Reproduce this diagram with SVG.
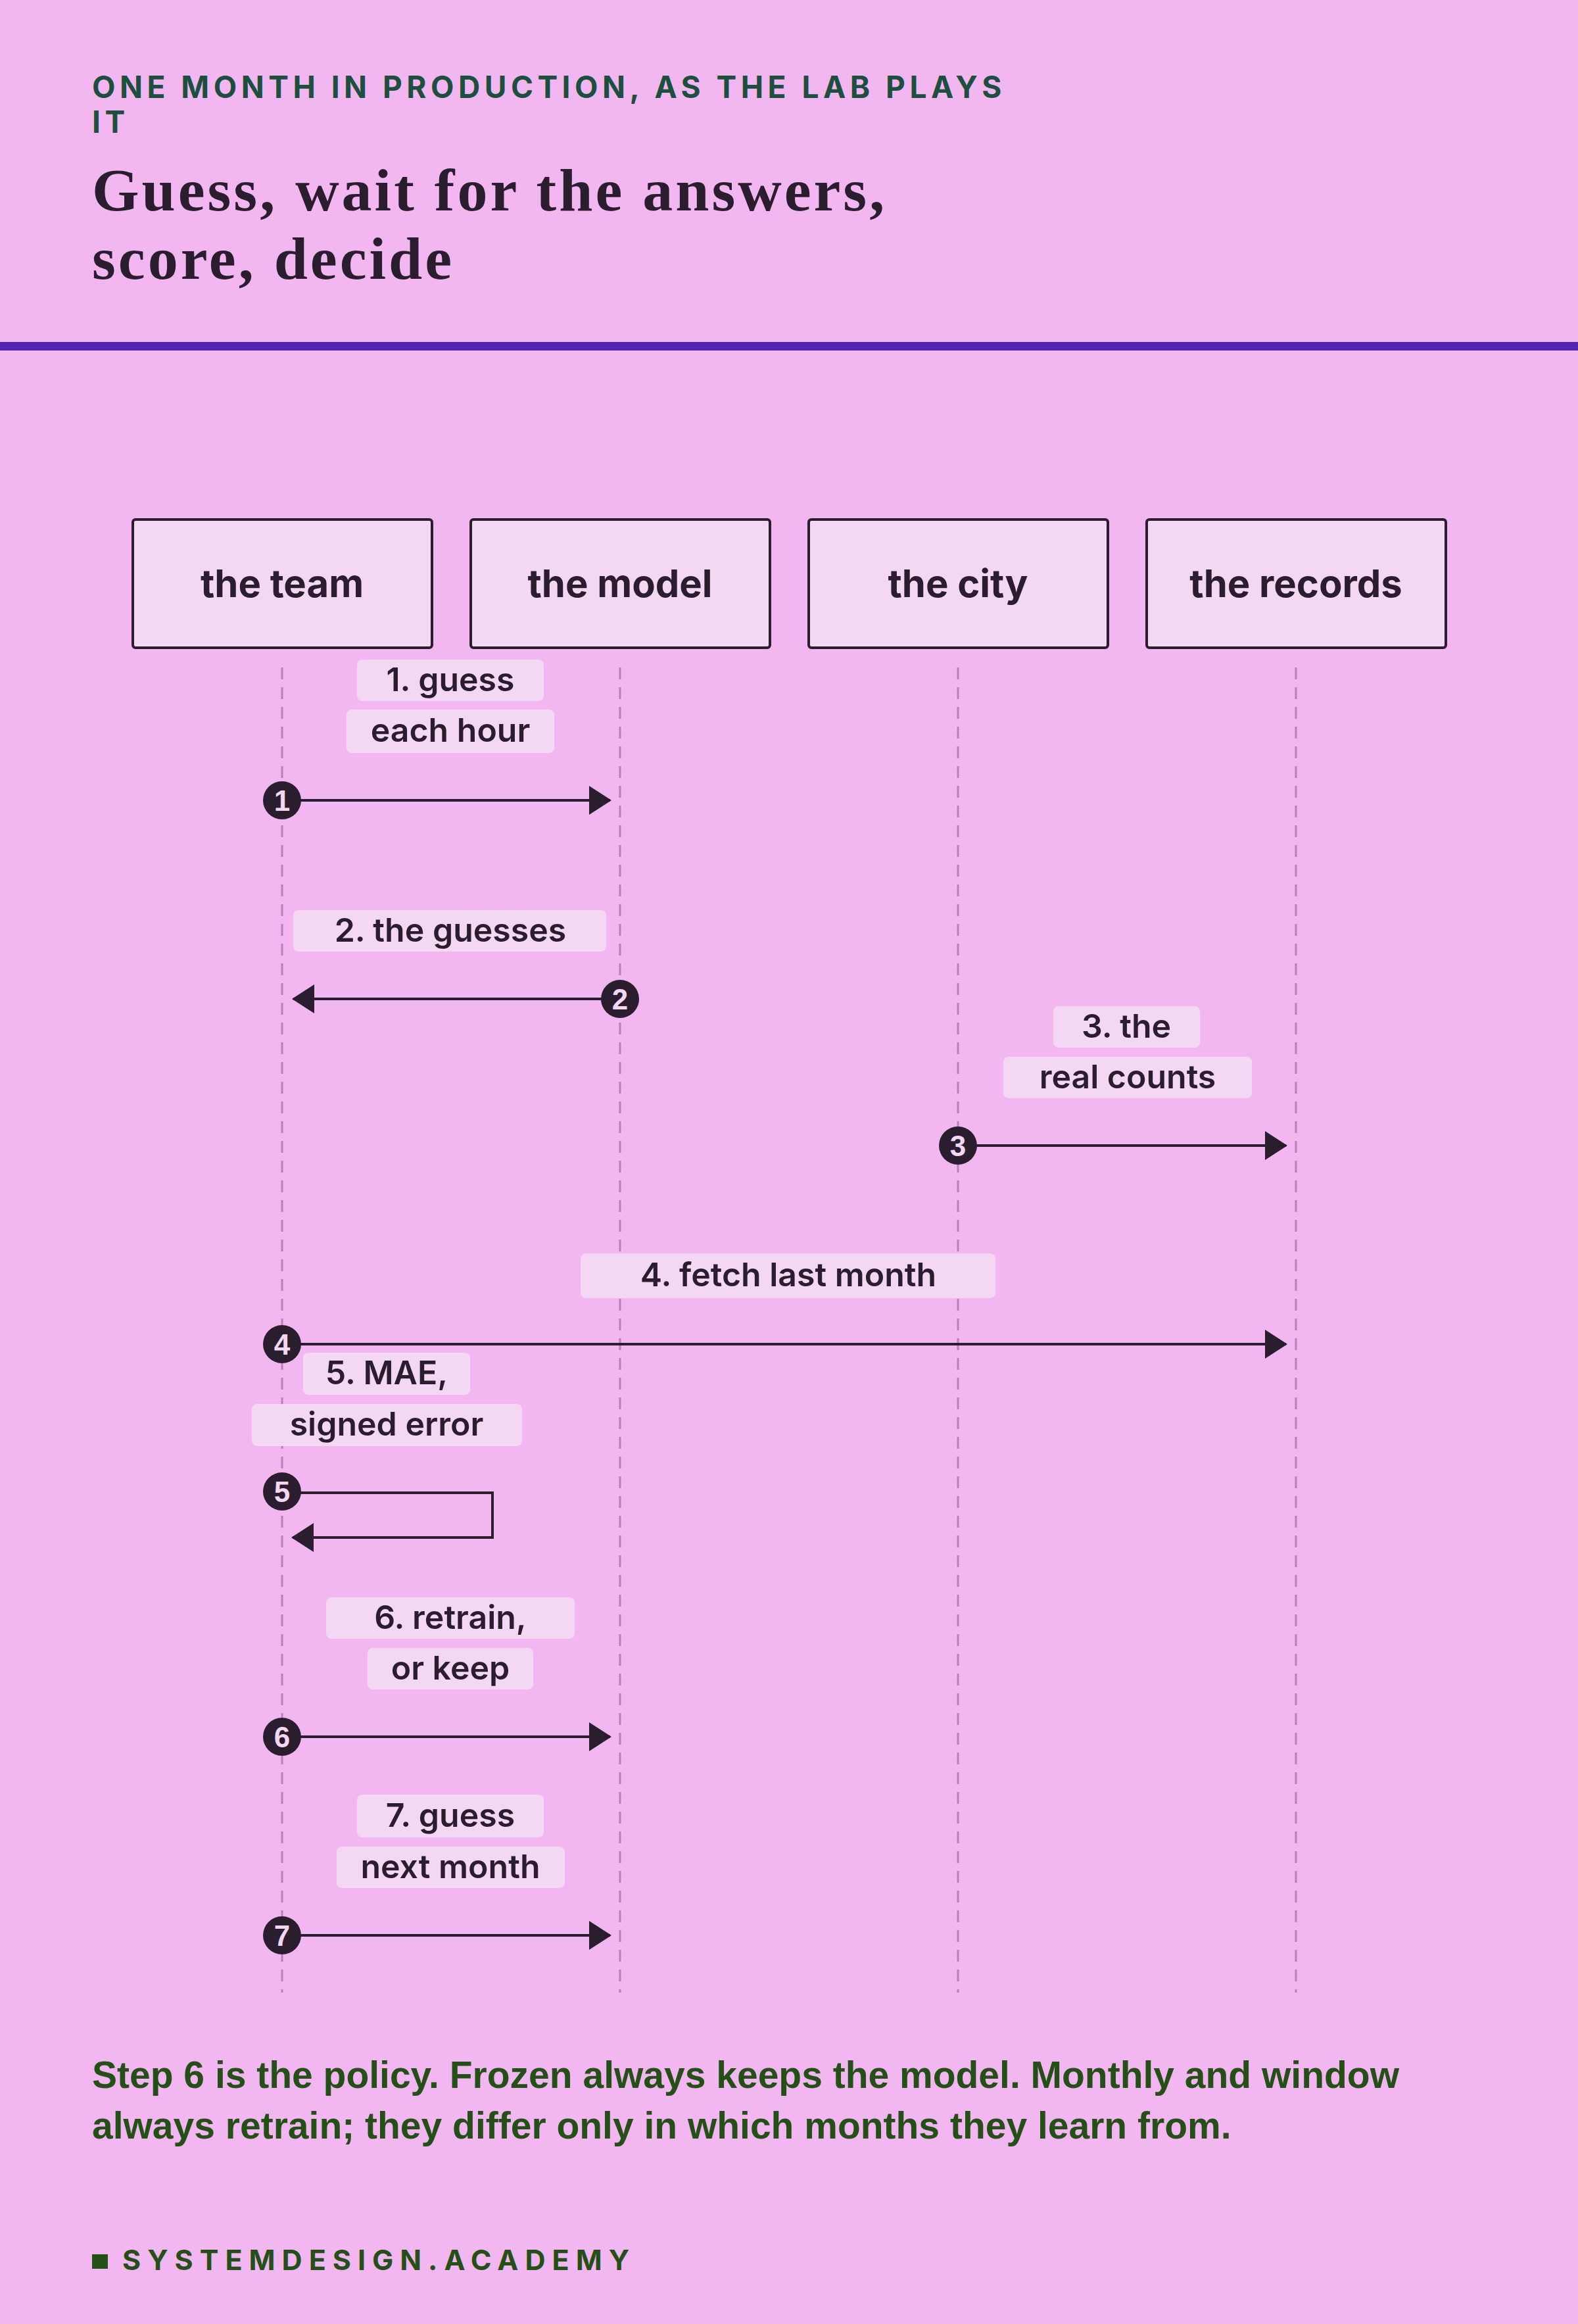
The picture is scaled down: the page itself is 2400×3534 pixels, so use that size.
<svg xmlns="http://www.w3.org/2000/svg" width="2400" height="3534" viewBox="0 0 2400 3534">
<style>
.node rect{fill:#f3d7f3;stroke:#2a1e2e;stroke-width:4}
.node text{font-family:Inter,"Liberation Sans",sans-serif;font-weight:700;font-size:58px;fill:#2a1e2e;text-anchor:middle}
.life{stroke:#b97fb7;stroke-width:3;stroke-dasharray:18 12}
.msg{stroke:#2a1e2e;stroke-width:4;fill:none}
.lbl rect{fill:#f3d7f3}
.lbl text{font-family:Inter,"Liberation Sans",sans-serif;font-weight:600;font-size:50px;fill:#2a1e2e;text-anchor:middle}
.badge circle{fill:#2a1e2e}
.badge text{font-family:"Liberation Sans",sans-serif;font-weight:700;font-size:44px;fill:#f3d7f3;text-anchor:middle}
</style>
<defs>
<marker id="ahb" markerWidth="34" markerHeight="44" refX="32" refY="22" orient="auto" markerUnits="userSpaceOnUse">
<path d="M0,0 L34,22 L0,44 Z" fill="#2a1e2e"/>
</marker>
</defs>
<rect width="2400" height="3534" fill="#f2b7f1"/>
<text x="140" y="149" font-family="Inter,'Liberation Sans',sans-serif" font-weight="700" font-size="46" letter-spacing="6.5" fill="#1d4f3f">ONE MONTH IN PRODUCTION, AS THE LAB PLAYS</text>
<text x="140" y="202" font-family="Inter,'Liberation Sans',sans-serif" font-weight="700" font-size="46" letter-spacing="6.5" fill="#1d4f3f">IT</text>
<text x="140" y="320" font-family="'Liberation Serif',serif" font-weight="700" font-size="92" letter-spacing="4" fill="#2a1e2e">Guess, wait for the answers,</text>
<text x="140" y="424" font-family="'Liberation Serif',serif" font-weight="700" font-size="92" letter-spacing="4" fill="#2a1e2e">score, decide</text>
<rect x="0" y="520" width="2400" height="13" fill="#5424b4"/>

<g id="lifelines">
<line class="life" x1="429" y1="1015" x2="429" y2="3030"/>
<line class="life" x1="943" y1="1015" x2="943" y2="3030"/>
<line class="life" x1="1457" y1="1015" x2="1457" y2="3030"/>
<line class="life" x1="1971" y1="1015" x2="1971" y2="3030"/>
</g>

<g id="team" class="node"><rect x="202" y="790" width="455" height="195" rx="4"/><text x="429" y="908">the team</text></g>
<g id="model" class="node"><rect x="716" y="790" width="455" height="195" rx="4"/><text x="943" y="908">the model</text></g>
<g id="city" class="node"><rect x="1230" y="790" width="455" height="195" rx="4"/><text x="1457" y="908">the city</text></g>
<g id="records" class="node"><rect x="1744" y="790" width="455" height="195" rx="4"/><text x="1971" y="908">the records</text></g>

<g id="connectors">
<line class="msg" x1="429" y1="1217" x2="928" y2="1217" marker-end="url(#ahb)"/>
<line class="msg" x1="943" y1="1519" x2="446" y2="1519" marker-end="url(#ahb)"/>
<line class="msg" x1="1457" y1="1742" x2="1956" y2="1742" marker-end="url(#ahb)"/>
<line class="msg" x1="429" y1="2044" x2="1956" y2="2044" marker-end="url(#ahb)"/>
<polyline class="msg" points="429,2270 749,2270 749,2338 445,2338" marker-end="url(#ahb)"/>
<line class="msg" x1="429" y1="2641" x2="928" y2="2641" marker-end="url(#ahb)"/>
<line class="msg" x1="429" y1="2943" x2="928" y2="2943" marker-end="url(#ahb)"/>
</g>

<g id="labels">
<g class="lbl"><rect x="543" y="1003" width="284" height="63" rx="8"/><text x="685" y="1051">1. guess</text></g>
<g class="lbl"><rect x="527" y="1079" width="316" height="66" rx="8"/><text x="685" y="1128">each hour</text></g>
<g class="lbl"><rect x="446" y="1384" width="476" height="63" rx="8"/><text x="685" y="1432">2. the guesses</text></g>
<g class="lbl"><rect x="1602" y="1530" width="223" height="63" rx="8"/><text x="1713" y="1578">3. the</text></g>
<g class="lbl"><rect x="1526" y="1607" width="378" height="63" rx="8"/><text x="1715" y="1655">real counts</text></g>
<g class="lbl"><rect x="883" y="1906" width="631" height="68" rx="8"/><text x="1199" y="1956">4. fetch last month</text></g>
<g class="lbl"><rect x="461" y="2057" width="254" height="64" rx="8"/><text x="588" y="2105">5. MAE,</text></g>
<g class="lbl"><rect x="383" y="2135" width="411" height="64" rx="8"/><text x="588" y="2183">signed error</text></g>
<g class="lbl"><rect x="496" y="2429" width="378" height="63" rx="8"/><text x="685" y="2477">6. retrain,</text></g>
<g class="lbl"><rect x="559" y="2506" width="252" height="63" rx="8"/><text x="685" y="2554">or keep</text></g>
<g class="lbl"><rect x="543" y="2729" width="284" height="65" rx="8"/><text x="685" y="2778">7. guess</text></g>
<g class="lbl"><rect x="512" y="2808" width="347" height="63" rx="8"/><text x="685" y="2856">next month</text></g>
</g>

<g id="badges">
<g class="badge"><circle cx="429" cy="1217" r="29"/><text x="429" y="1233">1</text></g>
<g class="badge"><circle cx="943" cy="1519" r="29"/><text x="943" y="1535">2</text></g>
<g class="badge"><circle cx="1457" cy="1742" r="29"/><text x="1457" y="1758">3</text></g>
<g class="badge"><circle cx="429" cy="2044" r="29"/><text x="429" y="2060">4</text></g>
<g class="badge"><circle cx="429" cy="2268" r="29"/><text x="429" y="2284">5</text></g>
<g class="badge"><circle cx="429" cy="2641" r="29"/><text x="429" y="2657">6</text></g>
<g class="badge"><circle cx="429" cy="2943" r="29"/><text x="429" y="2959">7</text></g>
</g>

<text x="140" y="3175" font-family="'Liberation Sans',sans-serif" font-weight="700" font-size="57" fill="#245017">Step 6 is the policy. Frozen always keeps the model. Monthly and window</text>
<text x="140" y="3252" font-family="'Liberation Sans',sans-serif" font-weight="700" font-size="57" fill="#245017">always retrain; they differ only in which months they learn from.</text>
<rect x="140" y="3428" width="24" height="22" fill="#245017"/>
<text x="186" y="3452" font-family="Inter,'Liberation Sans',sans-serif" font-weight="700" font-size="43" letter-spacing="10" fill="#245017">SYSTEMDESIGN.ACADEMY</text>
</svg>
